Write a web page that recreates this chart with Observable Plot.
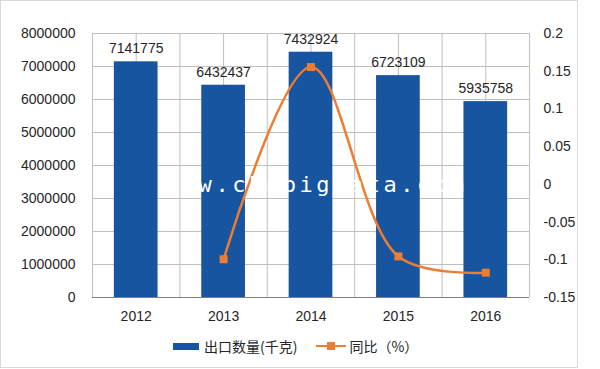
<!DOCTYPE html>
<html><head><meta charset="utf-8">
<script src="https://cdn.jsdelivr.net/npm/d3@7"></script>
<script src="https://cdn.jsdelivr.net/npm/@observablehq/plot@0.6"></script>
<style>
body{margin:0;background:#fff;}
#wrap{position:relative;width:600px;height:369px;overflow:hidden;font-family:"Liberation Sans",Arial,sans-serif;color:#262626;}
#border{position:absolute;left:0;top:0;width:576px;height:366px;border:1px solid #d9d9d9;pointer-events:none;}
#chart{position:absolute;left:0;top:0;}
#wm{position:absolute;left:165px;top:174px;font-family:"DejaVu Sans Mono",monospace;font-size:22px;line-height:22px;letter-spacing:3.56px;color:#fff;white-space:nowrap;}
#legend{position:absolute;left:173px;top:336px;height:20px;display:flex;align-items:center;font-family:"Noto Sans CJK SC",sans-serif;font-size:14px;color:#262626;}
.sw{display:inline-block;width:26px;height:7px;background:#1755a0;margin-right:5px;}
.ln{position:relative;display:inline-block;width:30px;height:2.5px;background:#ed7d31;margin:0 3px 0 19px;}
.ln i{position:absolute;left:11px;top:-3px;width:8px;height:8px;background:#ed7d31;}
</style></head>
<body>
<div id="wrap">
  <div id="chart"></div>
  <div id="wm"></div>
  <div id="legend"></div>
  <div id="border"></div>
</div>
<script>
const years = ["2012", "2013", "2014", "2015", "2016"];
const exportQty = [7141775, 6432437, 7432924, 6723109, 5935758];
const yoyRate = [null, -0.0993, 0.1555, -0.0955, -0.1171];
const leftTicks = [0, 1000000, 2000000, 3000000, 4000000, 5000000, 6000000, 7000000, 8000000];
const rightTicks = [-0.15, -0.1, -0.05, 0, 0.05, 0.1, 0.15, 0.2];
const seriesNames = ["出口数量(千克)", "同比（%）"];
const watermark = "www.chnbigdata.com";

const leftMax = 8000000, rMin = -0.15, rMax = 0.2;
const toLeft = v => (v - rMin) / (rMax - rMin) * leftMax;
const fromLeft = d => +(d / leftMax * (rMax - rMin) + rMin).toFixed(2);

const rows = years.map((year, i) => ({i, year, qty: exportQty[i], yoy: yoyRate[i]}));
const lineRows = rows.filter(d => d.yoy != null);
const vGrid = years.flatMap((_, i) => [i, i + 0.5]).concat([years.length]);

const BLUE = "#1755a0", ORANGE = "#ed7d31", GRID = "#bfbfbf";

const chart = Plot.plot({
  width: 600,
  height: 330,
  marginLeft: 92,
  marginRight: 71,
  marginTop: 33,
  marginBottom: 33,
  style: {fontFamily: '"Liberation Sans", Arial, sans-serif', fontSize: "14px", color: "#262626", background: "transparent"},
  x: {type: "linear", domain: [0, years.length]},
  y: {domain: [0, leftMax]},
  marks: [
    Plot.gridY(leftTicks, {stroke: GRID, strokeOpacity: 1}),
    Plot.gridX(vGrid, {stroke: GRID, strokeOpacity: 1}),
    Plot.rectY(rows, {x1: d => d.i + 0.25, x2: d => d.i + 0.75, y1: 0, y2: "qty", fill: BLUE}),
    Plot.ruleY([0], {stroke: "#808080", strokeWidth: 1.2}),
    Plot.text(rows, {x: d => d.i + 0.5, y: "qty", text: d => String(d.qty), dy: -13, fontSize: 14, fill: "#262626"}),
    Plot.line(lineRows, {x: d => d.i + 0.5, y: d => toLeft(d.yoy), curve: "catmull-rom", stroke: ORANGE, strokeWidth: 2.5}),
    Plot.dot(lineRows, {x: d => d.i + 0.5, y: d => toLeft(d.yoy), symbol: "square", r: 4.5, fill: ORANGE, stroke: "none"}),
    Plot.axisY(leftTicks, {anchor: "left", tickSize: 0, tickPadding: 17, tickFormat: d => String(d), label: null, fontSize: 14}),
    Plot.axisY(rightTicks.map(toLeft), {anchor: "right", tickSize: 0, tickPadding: 14, tickFormat: d => String(fromLeft(d)), label: null, fontSize: 14}),
    Plot.axisX(years.map((_, i) => i + 0.5), {anchor: "bottom", tickSize: 0, tickPadding: 14, tickFormat: d => years[Math.round(d - 0.5)], label: null, fontSize: 14})
  ]
});
document.getElementById("chart").appendChild(chart);
document.getElementById("wm").textContent = watermark;

const legend = document.getElementById("legend");
legend.innerHTML = `<span class="sw"></span><span>${seriesNames[0]}</span><span class="ln"><i></i></span><span>${seriesNames[1]}</span>`;
</script>
</body></html>
